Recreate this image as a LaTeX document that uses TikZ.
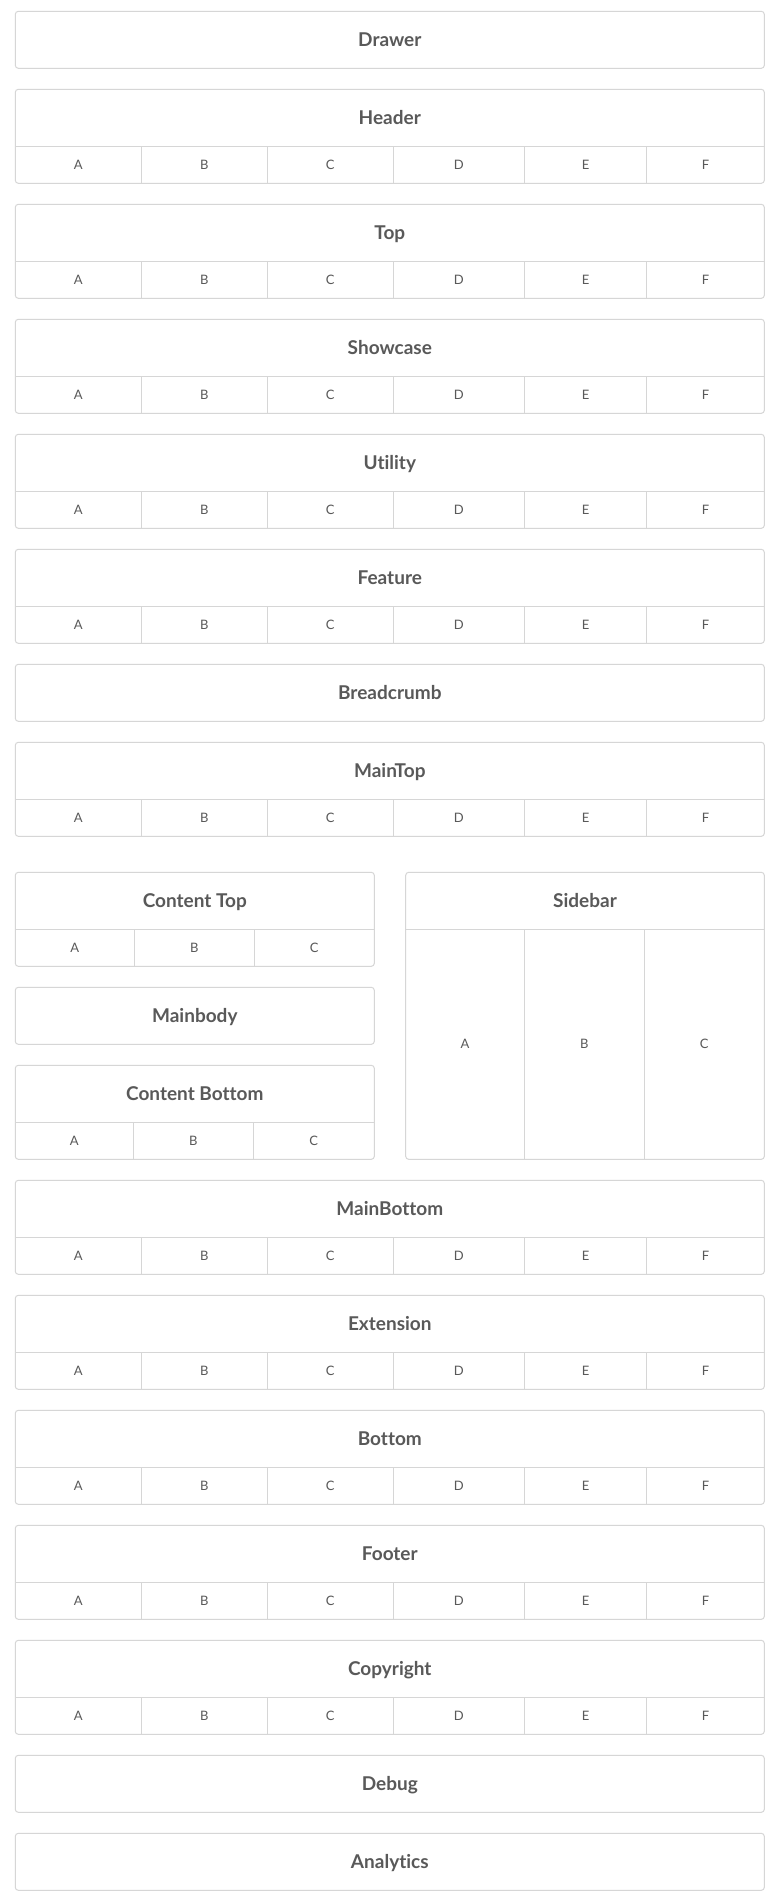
\documentclass[tikz,border=0pt]{standalone}
\usepackage{fontspec}
\setmainfont{Lato}[RawFeature={-liga;-clig;-dlig}]
\definecolor{bd}{HTML}{D6D6D6}
\definecolor{tx}{HTML}{595959}
\tikzset{
  box/.style={draw=bd,line width=1pt,rounded corners=3pt,inner sep=0pt,outer sep=0pt,anchor=north west,fill=white},
  title/.style={font=\bfseries\fontsize{19}{22}\selectfont,text=tx,inner sep=0pt,text height=13.6pt,text depth=0pt},
  lbl/.style={font=\fontsize{13}{15}\selectfont,text=tx,inner sep=0pt,text height=9.3pt,text depth=0pt},
  sep/.style={draw=bd,line width=1pt}
}
\newcommand\sixbox[3]{%
  \node[box,minimum width=749pt,minimum height=94pt] (#1) at (15.3,#2) {};
  \node[title] (#1-t) at (389.8,#2+28.5) {#3};
  \draw[sep] (15.3,#2+57) -- (764.3,#2+57);
  \foreach \xa/\xb/\l in {15.3/141.3/A,141.3/267.3/B,267.3/393.3/C,393.3/524.3/D,524.3/646.7/E,646.7/764.3/F}{
    \node[lbl] (#1-\l) at ({(\xa+\xb)/2},#2+75.5) {\l};
  }
  \foreach \xx in {141.3,267.3,393.3,524.3,646.7}{\draw[sep] (\xx,#2+57) -- (\xx,#2+94);}
}
\newcommand\plainbox[3]{%
  \node[box,minimum width=749pt,minimum height=57pt] (#1) at (15.3,#2) {};
  \node[title] (#1-t) at (389.8,#2+28.5) {#3};
}
\begin{document}
\begin{tikzpicture}[x=1pt,y=-1pt]
\useasboundingbox[fill=white] (0,0) rectangle (779,1904);
\plainbox{drawer}{11.3}{Drawer}
\sixbox{header}{89.3}{Header}
\sixbox{top}{204.3}{Top}
\sixbox{showcase}{319.3}{Showcase}
\sixbox{utility}{434.3}{Utility}
\sixbox{feature}{549.3}{Feature}
\plainbox{breadcrumb}{664.3}{Breadcrumb}
\sixbox{maintop}{742.3}{MainTop}
% content top
\node[box,minimum width=359pt,minimum height=94pt] (ctop) at (15.3,872.3) {};
\node[title] (ctop-t) at (194.8,900.8) {Content Top};
\draw[sep] (15.3,929.3) -- (374.3,929.3);
\draw[sep] (134.3,929.3) -- (134.3,966.3);
\draw[sep] (254.3,929.3) -- (254.3,966.3);
\node[lbl] (ctop-A) at (74.8,947.8) {A};
\node[lbl] (ctop-B) at (194.3,947.8) {B};
\node[lbl] (ctop-C) at (314.3,947.8) {C};
% mainbody
\node[box,minimum width=359pt,minimum height=57pt] (mainbody) at (15.3,987.3) {};
\node[title] (mainbody-t) at (194.8,1015.8) {Mainbody};
% content bottom
\node[box,minimum width=359pt,minimum height=94pt] (cbot) at (15.3,1065.3) {};
\node[title] (cbot-t) at (194.8,1093.8) {Content Bottom};
\draw[sep] (15.3,1122.3) -- (374.3,1122.3);
\draw[sep] (133.3,1122.3) -- (133.3,1159.3);
\draw[sep] (253.3,1122.3) -- (253.3,1159.3);
\node[lbl] (cbot-A) at (74.3,1140.8) {A};
\node[lbl] (cbot-B) at (193.3,1140.8) {B};
\node[lbl] (cbot-C) at (313.8,1140.8) {C};
% sidebar
\node[box,minimum width=358.6pt,minimum height=287pt] (sidebar) at (405.7,872.3) {};
\node[title] (sidebar-t) at (585,900.8) {Sidebar};
\draw[sep] (405.7,929.3) -- (764.3,929.3);
\draw[sep] (524.3,929.3) -- (524.3,1159.3);
\draw[sep] (644.3,929.3) -- (644.3,1159.3);
\node[lbl] (sidebar-A) at (465,1044.3) {A};
\node[lbl] (sidebar-B) at (584.3,1044.3) {B};
\node[lbl] (sidebar-C) at (704.3,1044.3) {C};
\sixbox{mainbottom}{1180.3}{MainBottom}
\sixbox{extension}{1295.3}{Extension}
\sixbox{bottom}{1410.3}{Bottom}
\sixbox{footer}{1525.3}{Footer}
\sixbox{copyright}{1640.3}{Copyright}
\plainbox{debug}{1755.3}{Debug}
\plainbox{analytics}{1833.3}{Analytics}
\end{tikzpicture}
\end{document}
